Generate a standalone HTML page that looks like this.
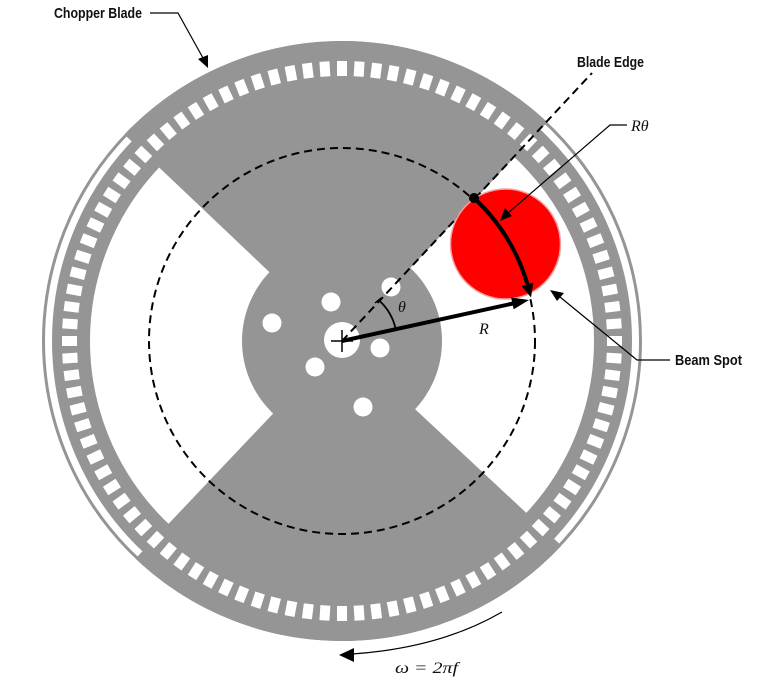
<!DOCTYPE html>
<html><head><meta charset="utf-8"><style>
html,body{margin:0;padding:0;background:#fff;}
svg{display:block;}
.lbl{font-family:"Liberation Sans Narrow","Liberation Sans",sans-serif;font-size:15px;font-weight:bold;fill:#111;}
.m{font-family:"Liberation Serif",serif;font-style:italic;font-size:16px;fill:#111;}
</style></head><body>
<svg width="780" height="680" viewBox="0 0 780 680" xmlns="http://www.w3.org/2000/svg">
<defs>
<rect id="s" x="-5" y="-280" width="10" height="15" fill="#fff"/>
</defs>
<circle cx="342" cy="341" r="298.5" fill="none" stroke="#959595" stroke-width="3"/>
<circle cx="342" cy="341" r="271" fill="none" stroke="#959595" stroke-width="38"/>
<path d="M342,341 L547.3,122.2 A300,300 0 0 0 124.4,134.5 Z" fill="#959595"/>
<path d="M342,341 L135.5,558.6 A300,300 0 0 0 561.4,545.6 Z" fill="#959595"/>
<circle cx="342" cy="341" r="100" fill="#959595"/>
<g transform="translate(342,341)">
<use href="#s" transform="rotate(0)"/><use href="#s" transform="rotate(3.6)"/><use href="#s" transform="rotate(7.2)"/><use href="#s" transform="rotate(10.8)"/><use href="#s" transform="rotate(14.4)"/><use href="#s" transform="rotate(18)"/><use href="#s" transform="rotate(21.6)"/><use href="#s" transform="rotate(25.2)"/><use href="#s" transform="rotate(28.8)"/><use href="#s" transform="rotate(32.4)"/>
<use href="#s" transform="rotate(36)"/><use href="#s" transform="rotate(39.6)"/><use href="#s" transform="rotate(43.2)"/><use href="#s" transform="rotate(46.8)"/><use href="#s" transform="rotate(50.4)"/><use href="#s" transform="rotate(54)"/><use href="#s" transform="rotate(57.6)"/><use href="#s" transform="rotate(61.2)"/><use href="#s" transform="rotate(64.8)"/><use href="#s" transform="rotate(68.4)"/>
<use href="#s" transform="rotate(72)"/><use href="#s" transform="rotate(75.6)"/><use href="#s" transform="rotate(79.2)"/><use href="#s" transform="rotate(82.8)"/><use href="#s" transform="rotate(86.4)"/><use href="#s" transform="rotate(90)"/><use href="#s" transform="rotate(93.6)"/><use href="#s" transform="rotate(97.2)"/><use href="#s" transform="rotate(100.8)"/><use href="#s" transform="rotate(104.4)"/>
<use href="#s" transform="rotate(108)"/><use href="#s" transform="rotate(111.6)"/><use href="#s" transform="rotate(115.2)"/><use href="#s" transform="rotate(118.8)"/><use href="#s" transform="rotate(122.4)"/><use href="#s" transform="rotate(126)"/><use href="#s" transform="rotate(129.6)"/><use href="#s" transform="rotate(133.2)"/><use href="#s" transform="rotate(136.8)"/><use href="#s" transform="rotate(140.4)"/>
<use href="#s" transform="rotate(144)"/><use href="#s" transform="rotate(147.6)"/><use href="#s" transform="rotate(151.2)"/><use href="#s" transform="rotate(154.8)"/><use href="#s" transform="rotate(158.4)"/><use href="#s" transform="rotate(162)"/><use href="#s" transform="rotate(165.6)"/><use href="#s" transform="rotate(169.2)"/><use href="#s" transform="rotate(172.8)"/><use href="#s" transform="rotate(176.4)"/>
<use href="#s" transform="rotate(180)"/><use href="#s" transform="rotate(183.6)"/><use href="#s" transform="rotate(187.2)"/><use href="#s" transform="rotate(190.8)"/><use href="#s" transform="rotate(194.4)"/><use href="#s" transform="rotate(198)"/><use href="#s" transform="rotate(201.6)"/><use href="#s" transform="rotate(205.2)"/><use href="#s" transform="rotate(208.8)"/><use href="#s" transform="rotate(212.4)"/>
<use href="#s" transform="rotate(216)"/><use href="#s" transform="rotate(219.6)"/><use href="#s" transform="rotate(223.2)"/><use href="#s" transform="rotate(226.8)"/><use href="#s" transform="rotate(230.4)"/><use href="#s" transform="rotate(234)"/><use href="#s" transform="rotate(237.6)"/><use href="#s" transform="rotate(241.2)"/><use href="#s" transform="rotate(244.8)"/><use href="#s" transform="rotate(248.4)"/>
<use href="#s" transform="rotate(252)"/><use href="#s" transform="rotate(255.6)"/><use href="#s" transform="rotate(259.2)"/><use href="#s" transform="rotate(262.8)"/><use href="#s" transform="rotate(266.4)"/><use href="#s" transform="rotate(270)"/><use href="#s" transform="rotate(273.6)"/><use href="#s" transform="rotate(277.2)"/><use href="#s" transform="rotate(280.8)"/><use href="#s" transform="rotate(284.4)"/>
<use href="#s" transform="rotate(288)"/><use href="#s" transform="rotate(291.6)"/><use href="#s" transform="rotate(295.2)"/><use href="#s" transform="rotate(298.8)"/><use href="#s" transform="rotate(302.4)"/><use href="#s" transform="rotate(306)"/><use href="#s" transform="rotate(309.6)"/><use href="#s" transform="rotate(313.2)"/><use href="#s" transform="rotate(316.8)"/><use href="#s" transform="rotate(320.4)"/>
<use href="#s" transform="rotate(324)"/><use href="#s" transform="rotate(327.6)"/><use href="#s" transform="rotate(331.2)"/><use href="#s" transform="rotate(334.8)"/><use href="#s" transform="rotate(338.4)"/><use href="#s" transform="rotate(342)"/><use href="#s" transform="rotate(345.6)"/><use href="#s" transform="rotate(349.2)"/><use href="#s" transform="rotate(352.8)"/><use href="#s" transform="rotate(356.4)"/>
</g>
<g fill="#fff">
<circle cx="342" cy="340" r="18"/>
<circle cx="331" cy="302" r="9.5"/>
<circle cx="272" cy="323" r="9.5"/>
<circle cx="391" cy="287" r="9.5"/>
<circle cx="380" cy="348" r="9.5"/>
<circle cx="315" cy="367" r="9.5"/>
<circle cx="363" cy="407" r="9.5"/>
</g>
<circle cx="342" cy="341" r="193" fill="none" stroke="#000" stroke-width="2" stroke-dasharray="8,5"/>
<line x1="342" y1="341" x2="592" y2="73" stroke="#000" stroke-width="2" stroke-dasharray="8,5"/>
<circle cx="505.5" cy="244" r="55" fill="#ff0000" stroke="#f7a0a0" stroke-width="1.5"/>
<path d="M379.5,300.8 A55,55 0 0 1 395.6,328.6" fill="none" stroke="#000" stroke-width="1.8"/>
<line x1="375" y1="303" x2="381" y2="298" stroke="#000" stroke-width="1.4"/>
<circle cx="474" cy="198" r="5" fill="#000"/>
<path d="M474,198 A194,194 0 0 1 527.5,284.3" fill="none" stroke="#000" stroke-width="4"/>
<polygon points="531,297.5 533.3,282.6 521.7,286" fill="#000"/>
<line x1="342" y1="341" x2="513" y2="303.5" stroke="#000" stroke-width="4"/>
<polygon points="529,300 513.7,309.3 511.1,297.5" fill="#000"/>
<line x1="331" y1="341" x2="353" y2="341" stroke="#000" stroke-width="1.5"/>
<line x1="342" y1="330" x2="342" y2="352" stroke="#000" stroke-width="1.5"/>
<text class="m" x="398" y="312">θ</text>
<text class="m" x="479" y="334">R</text>
<g stroke="#000" stroke-width="1.2" fill="none">
<polyline points="150,13 178,13 203,58"/>
<polyline points="627,125 610,125 508,213"/>
<polyline points="670,360 637,360 560,297"/>
<path d="M502,612 Q440,648 352,654"/>
</g>
<g fill="#000">
<polygon points="208,68 198,59 208,55"/>
<polygon points="500,221 505,208 512,216"/>
<polygon points="550,290 564,293 557,301"/>
<polygon points="339,655 354,648 354,662"/>
</g>
<text class="lbl" x="54" y="18" textLength="88" lengthAdjust="spacingAndGlyphs">Chopper Blade</text>
<text class="lbl" x="577" y="67" textLength="67" lengthAdjust="spacingAndGlyphs">Blade Edge</text>
<text class="m" x="631" y="131">Rθ</text>
<text class="lbl" x="675" y="365" textLength="67" lengthAdjust="spacingAndGlyphs">Beam Spot</text>
<text class="m" x="395" y="673" textLength="63" lengthAdjust="spacingAndGlyphs">ω = 2πf</text>
</svg>
</body></html>
